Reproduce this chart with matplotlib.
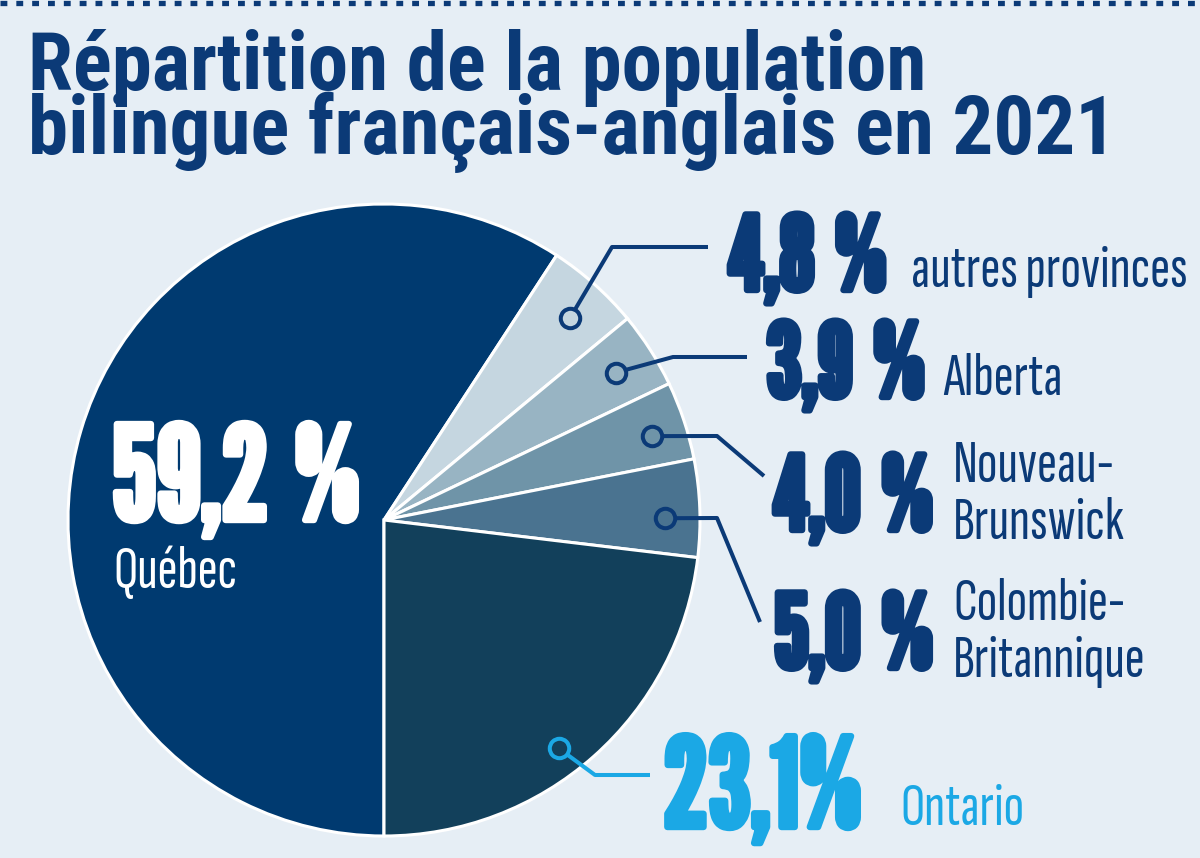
import matplotlib
matplotlib.use("Agg")
import matplotlib.pyplot as plt
import matplotlib.patheffects as pe
import numpy as np

# data
regions = ["Québec", "autres provinces", "Alberta", "Nouveau-\nBrunswick",
           "Colombie-\nBritannique", "Ontario"]
shares = [59.2, 4.8, 3.9, 4.0, 5.0, 23.1]
slice_colors = ["#003a70", "#c5d6e0", "#98b4c3", "#6f94a8", "#4a7390", "#12405b"]
label_colors = ["#ffffff", "#0b3a77", "#0b3a77", "#0b3a77", "#0b3a77", "#1ba8e5"]
title_lines = ["Répartition de la population", "bilingue français-anglais en 2021"]

W, H = 1200, 858
BG = "#e6eef5"
NAVY = "#0b3a77"

NUM_FONT = ["League Gothic", "DejaVu Sans"]
SUB_FONT = ["Sofia Sans Extra Condensed", "DejaVu Sans"]
TITLE_FONT = ["Roboto Condensed", "Roboto", "DejaVu Sans"]

fig = plt.figure(figsize=(W / 100, H / 100), dpi=100, facecolor=BG)
ax = fig.add_axes([0, 0, 1, 1])
ax.set_facecolor(BG)

# pie, in pixel units (y from the bottom)
cx, cy, R = 384, H - 520, 316
wedges, _ = ax.pie(shares, colors=slice_colors, startangle=270, counterclock=False,
                   center=(cx, cy), radius=R,
                   wedgeprops=dict(edgecolor="white", linewidth=2.2))
ax.set_xlim(0, W)
ax.set_ylim(0, H)
ax.set_aspect("equal")
ax.axis("off")

# dotted strip along the top edge
ax.plot([0, W], [H - 3, H - 3], color=NAVY, lw=3.8, linestyle=(0, (1.3, 1.7)))

fig.canvas.draw()
renderer = fig.canvas.get_renderer()


def fit(t, width_px):
    bb = t.get_window_extent(renderer)
    t.set_fontsize(t.get_fontsize() * width_px / bb.width)


# title, sized so the second line spans about the same width as the reference
t1 = ax.text(28, H - 90, title_lines[0], family=TITLE_FONT, weight="bold",
             color=NAVY, fontsize=60, va="baseline")
t2 = ax.text(28, H - 154, title_lines[1], family=TITLE_FONT, weight="bold",
             color=NAVY, fontsize=60, va="baseline")
fit(t2, 1090)
t1.set_fontsize(t2.get_fontsize())

# sublabel size taken from the widest single-line label
probe = ax.text(0, 0, regions[1], family=SUB_FONT, fontsize=40)
fit(probe, 277)
SUB_SIZE = probe.get_fontsize()
probe.remove()

# label layout in image pixels (y from the top)
layout = {
    0: dict(nx=112, ny=520, size=94, sep="\u2009", sx=113, sy=588),
    1: dict(nx=728, ny=290, size=74, sep="\u2009", sx=911, sy=287,
            frac=0.45, rad=0.87, elbow=(612, 247), end=(708, 247)),
    2: dict(nx=766, ny=397, size=74, sep="\u2009", sx=943, sy=395,
            frac=0.49, rad=0.87, elbow=(673, 357), end=(747, 357)),
    3: dict(nx=773, ny=530, size=74, sep="\u2009", sx=953, sy=482,
            frac=0.43, rad=0.89, elbow=(717, 436), end=(764, 476)),
    4: dict(nx=774, ny=668, size=74, sep="\u2009", sx=953, sy=620,
            frac=0.40, rad=0.89, elbow=(717, 518), end=(760, 622)),
    5: dict(nx=663, ny=827, size=89, sep="", sx=900, sy=825,
            frac=0.45, rad=0.91, elbow=(595, 775), end=(650, 775)),
}
LINE_GAP = 57

for i, w in enumerate(wedges):
    L = layout[i]
    col = label_colors[i]
    pct = f"{shares[i]:.1f}".replace(".", ",") + L["sep"] + "%"
    ax.text(L["nx"], H - L["ny"], pct, family=NUM_FONT, color=col,
            fontsize=L["size"], va="baseline", zorder=5,
            path_effects=[pe.withStroke(linewidth=4.6, foreground=col)])
    for k, line in enumerate(regions[i].split("\n")):
        ax.text(L["sx"], H - L["sy"] - k * LINE_GAP, line, family=SUB_FONT,
                color=col, fontsize=SUB_SIZE, va="baseline", zorder=5)
    if i == 0:
        continue
    # leader: ring on the slice, then an elbow towards the number
    a = np.deg2rad(w.theta1 + L["frac"] * (w.theta2 - w.theta1))
    px, py = cx + L["rad"] * R * np.cos(a), cy + L["rad"] * R * np.sin(a)
    xs = [px, L["elbow"][0], L["end"][0]]
    ys = [py, H - L["elbow"][1], H - L["end"][1]]
    ax.plot(xs, ys, color=col, lw=2.9, solid_capstyle="butt", zorder=3)
    ax.plot(px, py, "o", ms=14, mew=2.9, mec=col, mfc=slice_colors[i], zorder=4)

fig.savefig("out.png", dpi=100, facecolor=BG)
